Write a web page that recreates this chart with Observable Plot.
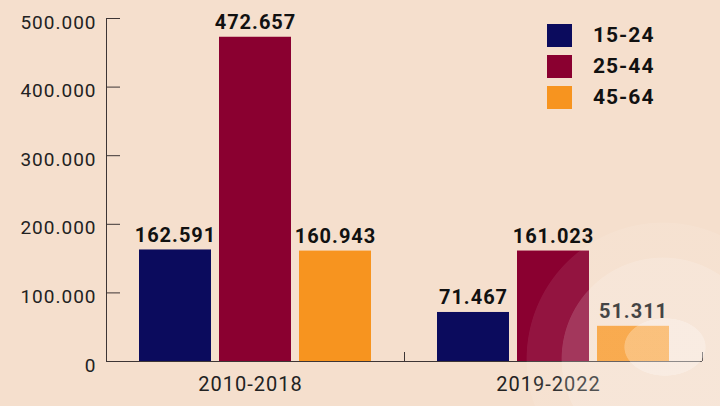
<!DOCTYPE html>
<html><head><meta charset="utf-8">
<script src="https://cdn.jsdelivr.net/npm/d3@7"></script>
<script src="https://cdn.jsdelivr.net/npm/@observablehq/plot@0.6"></script>
<style>
html,body{margin:0;padding:0;background:#f5dfcd;}
#wrap{position:relative;width:720px;height:406px;overflow:hidden;background:#f5dfcd;font-family:Roboto, sans-serif;}
#deco{position:absolute;left:0;top:0;width:720px;height:406px;pointer-events:none;
 background:
  radial-gradient(ellipse 41px 29px at 665px 347px, rgba(255,255,255,0.26) 0 98%, rgba(255,255,255,0) 100%),
  radial-gradient(circle at 663px 359px, rgba(255,255,255,0.15) 0 101px, rgba(255,255,255,0) 101.8px),
  radial-gradient(circle at 663px 359px, rgba(255,255,255,0.08) 0 136px, rgba(255,255,255,0) 136.8px);}
#legend{position:absolute;left:547px;top:24px;}
#legend .lg-swatch{padding-bottom:8px !important;line-height:23px;height:23px;}
#legend .lg-swatch > svg{margin-right:21px !important;}
#legend .lg-swatch-label{letter-spacing:1px;color:#111;}
</style></head><body><div id="wrap"></div>
<script>
const groups = ["2010-2018", "2019-2022"];
const ages = ["15-24", "25-44", "45-64"];
const v1524 = [162591, 71467];
const v2544 = [472657, 161023];
const v4564 = [160943, 51311];
const colors = ["#0b0b5d", "#8a0030", "#f7941f"];
const yTicks = [0, 100000, 200000, 300000, 400000, 500000];

const series = [v1524, v2544, v4564];
const data = ages.flatMap((a, i) => groups.map((g, j) => ({group: g, age: a, value: series[i][j]})));
const fmt = d3.formatLocale({decimal: ",", thousands: ".", grouping: [3], currency: ["", ""]}).format(",");

const W = 720, H = 406, mL = 106, mR = 18, mT = 18, mB = 45;
const band = (W - mL - mR) / groups.length;
const bw = 72, gap = 8;
const outer = (band - ages.length * bw - (ages.length - 1) * gap) / 2;

const barMarks = ages.flatMap((a, i) => {
  const left = outer + i * (bw + gap);
  const sub = data.filter(d => d.age === a);
  return [
    Plot.barY(sub, {x: "group", y: "value", fill: "age", insetLeft: left, insetRight: band - left - bw}),
    Plot.text(sub, {x: "group", y: "value", text: d => fmt(d.value), dx: left + bw / 2 - band / 2, dy: -8,
      lineAnchor: "bottom", fontWeight: "bold", fontSize: 20, fill: "#111"})
  ];
});

const chart = Plot.plot({
  width: W, height: H,
  marginLeft: mL, marginRight: mR, marginTop: mT, marginBottom: mB,
  style: {fontFamily: "Roboto", fontSize: "19px", background: "transparent", color: "#222", letterSpacing: "1px", overflow: "visible"},
  x: {domain: groups, padding: 0},
  y: {domain: [0, 500000]},
  color: {domain: ages, range: colors},
  marks: [
    ...barMarks,
    Plot.ruleY([0], {stroke: "#3d3535"}),
    Plot.ruleX([groups[0]], {dx: -band / 2, y1: 0, y2: 500000, stroke: "#3d3535"}),
    Plot.axisY({ticks: yTicks, tickSize: -14, fill: "none", label: null, stroke: "#3d3535"}),
    Plot.axisY({ticks: yTicks, tickSize: 0, tickPadding: 10, tickFormat: fmt, label: null, fontSize: 19, dy: 4, fill: "#222"}),
    Plot.axisX({tickSize: -9, dx: band / 2, fill: "none", label: null, stroke: "#3d3535"}),
    Plot.axisX({tickSize: 0, tickPadding: 15, fontSize: 20, dx: -5, label: null, fill: "#222"})
  ]
});

const wrap = document.getElementById("wrap");
wrap.appendChild(chart);
const legend = Plot.legend({
  color: {domain: ages, range: colors},
  legend: "swatches", columns: 1, swatchWidth: 25, swatchHeight: 23, className: "lg",
  style: {fontFamily: "Roboto", fontSize: "21px", fontWeight: "bold", background: "transparent", margin: "0"}
});
const lw = document.createElement("div");
lw.id = "legend";
lw.appendChild(legend);
wrap.appendChild(lw);
const deco = document.createElement("div");
deco.id = "deco";
wrap.appendChild(deco);
</script></body></html>
